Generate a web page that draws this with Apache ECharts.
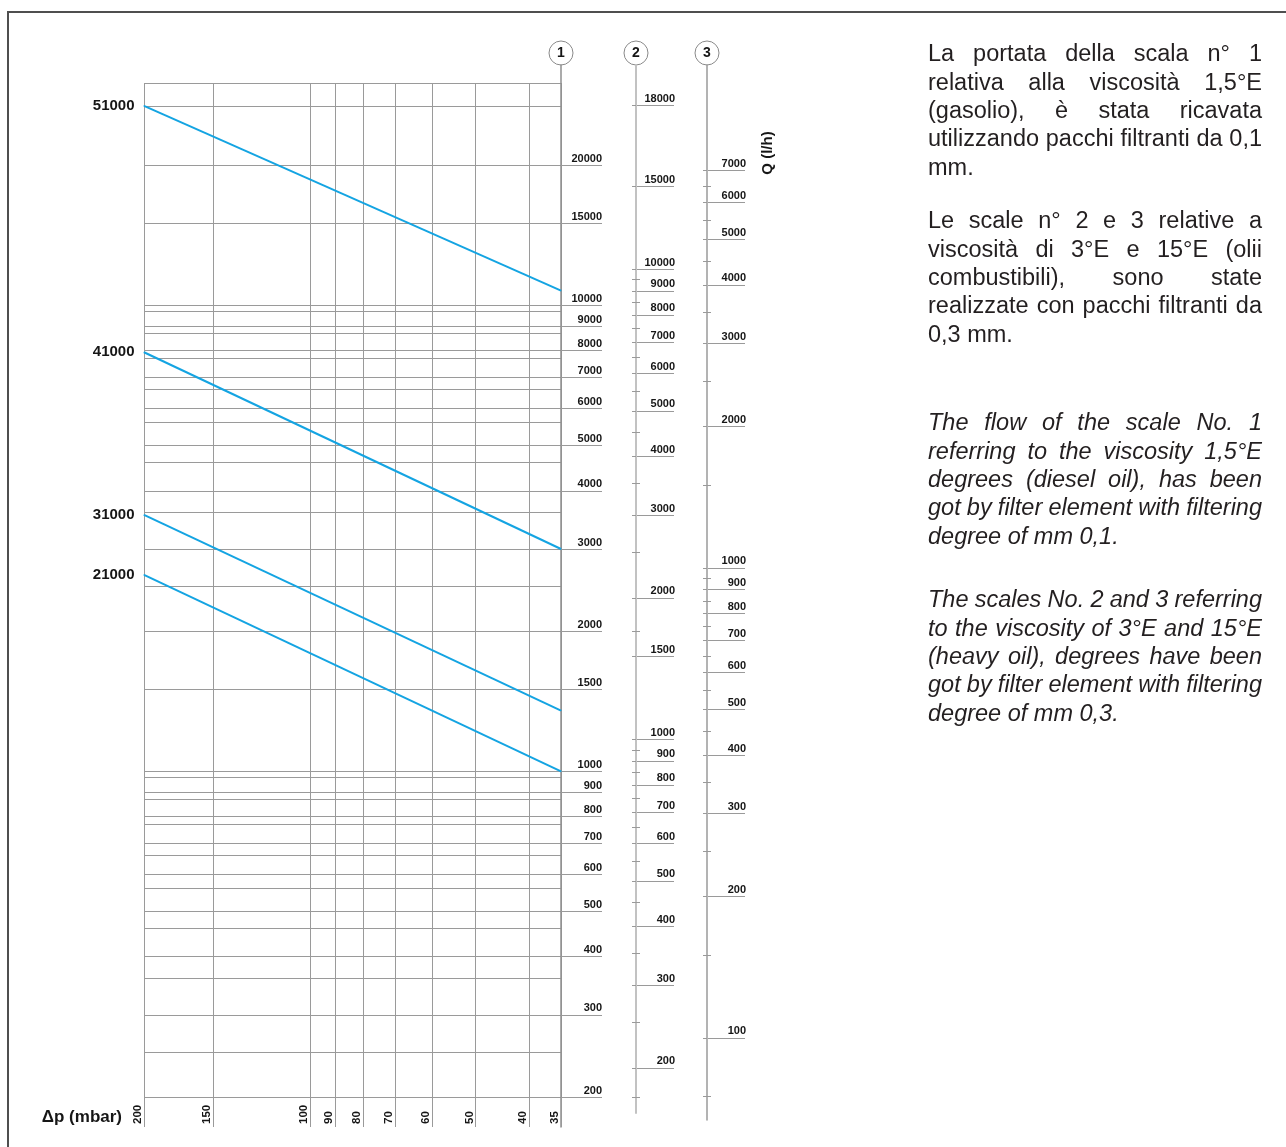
<!DOCTYPE html>
<html><head><meta charset="utf-8">
<script src="https://cdn.jsdelivr.net/npm/echarts@6/dist/echarts.min.js"></script>
<style>html,body{margin:0;padding:0;background:#fff}#c{width:1286px;height:1147px}</style>
</head><body><div id="c"></div>
<script>
// ---------- DATA ----------
// Pressure drop ticks (mbar), bottom axis
const dpTicks = [200, 150, 100, 90, 80, 70, 60, 50, 40, 35];
// Scale 1 (flow Q, l/h) labelled values
const scale1Labels = [20000, 15000, 10000, 9000, 8000, 7000, 6000, 5000, 4000, 3000, 2000, 1500, 1000, 900, 800, 700, 600, 500, 400, 300, 200];
// Scale 1 horizontal grid lines
const scale1Grid = [30000, 26800, 20000, 15000, 10000, 9700, 9000, 8700, 8000, 7700, 7000, 6600, 6000, 5600, 5000, 4600, 4000, 3600, 3000, 2500, 2000, 1500, 1000, 970, 900, 870, 800, 770, 700, 660, 600, 560, 500, 460, 400, 360, 300, 250, 200];
// Scale 2 ticks (labelled position / printed text) and minor ticks
const scale2Major = [22300, 15000, 10000, 9000, 8000, 7000, 6000, 5000, 4000, 3000, 2000, 1500, 1000, 900, 800, 700, 600, 500, 400, 300, 200];
const scale2Text = ['18000', '15000', '10000', '9000', '8000', '7000', '6000', '5000', '4000', '3000', '2000', '1500', '1000', '900', '800', '700', '600', '500', '400', '300', '200'];
const scale2Minor = [9500, 8500, 7500, 6500, 5500, 4500, 3500, 2500, 1700, 950, 850, 750, 650, 550, 450, 350, 250, 173];
// Scale 3 ticks
const scale3Major = [7000, 6000, 5000, 4000, 3000, 2000, 1000, 900, 800, 700, 600, 500, 400, 300, 200, 100];
const scale3Minor = [6500, 5500, 4500, 3500, 2500, 1500, 950, 850, 750, 650, 550, 450, 350, 250, 150, 75];
// Filter lines: name, Q at 200 mbar, Q at 35 mbar (scale 1)
const lineNames = ['51000', '41000', '31000', '21000'];
const lineQat200 = [26800, 7930, 3550, 2640];
const lineQat35 = [10750, 3000, 1350, 1000];
// Axis ranges
const dpRange = [35, 200];
const scale1Range = [200, 30000];
const scale2Range = [160.3, 27200];
const scale3Range = [66.9, 11750];
// Notes
const notes = [
  {italic: false, lines: ['La portata della scala n° 1', 'relativa alla viscosità 1,5°E', '(gasolio), è stata ricavata', 'utilizzando pacchi filtranti da 0,1', 'mm.']},
  {italic: false, lines: ['Le scale n° 2 e 3 relative a', 'viscosità di 3°E e 15°E (olii', 'combustibili), sono state', 'realizzate con pacchi filtranti da', '0,3 mm.']},
  {italic: true, lines: ['The flow of the scale No. 1', 'referring to the viscosity 1,5°E', 'degrees (diesel oil), has been', 'got by filter element with filtering', 'degree of mm 0,1.']},
  {italic: true, lines: ['The scales No. 2 and 3 referring', 'to the viscosity of 3°E and 15°E', '(heavy oil), degrees have been', 'got by filter element with filtering', 'degree of mm 0,3.']}
];
const noteBaselines = [63, 230, 432, 609];

// ---------- STYLE ----------
const FF = '"Liberation Sans", Arial, Helvetica, sans-serif';
const GRID_C = '#9a9a9a';
const TXT = '#161616';
const BLUE = '#14a4e2';
const plain = v => String(Math.round(v));
const LBL = {fontFamily: FF, fontWeight: 'bold', fontSize: 11, color: TXT, formatter: plain};

function hiddenX(gi) { return {gridIndex: gi, type: 'value', show: false, min: 0, max: 1}; }

// justified note text
const mctx = document.createElement('canvas').getContext('2d');
const graphics = [];
graphics.push({type: 'rect', shape: {x: 8, y: 12, width: 1300, height: 1160}, style: {fill: 'none', stroke: '#4f4f4f', lineWidth: 2}, silent: true});
const NOTE_X = 928, NOTE_W = 334, PITCH = 28.3, FS = 23.5;
notes.forEach((p, pi) => {
  const font = (p.italic ? 'italic ' : '') + FS + 'px ' + FF;
  mctx.font = font;
  p.lines.forEach((ln, i) => {
    const y = noteBaselines[pi] + i * PITCH - 0.3465 * FS;
    const words = ln.split(' ');
    if (i === p.lines.length - 1 || words.length < 2) {
      graphics.push({type: 'text', x: NOTE_X, y: y, style: {text: ln, font: font, fill: '#231f20', align: 'left', verticalAlign: 'middle'}});
      return;
    }
    const ws = words.map(w => mctx.measureText(w).width);
    const tot = ws.reduce((a, b) => a + b, 0);
    const gap = (NOTE_W - tot) / (words.length - 1);
    let x = NOTE_X;
    words.forEach((w, j) => {
      graphics.push({type: 'text', x: x, y: y, style: {text: w, font: font, fill: '#231f20', align: 'left', verticalAlign: 'middle'}});
      x += ws[j] + gap;
    });
  });
});
// scale circles
[['1', 561], ['2', 636], ['3', 707]].forEach(c => {
  graphics.push({type: 'circle', shape: {cx: c[1], cy: 53, r: 12}, style: {fill: '#fff', stroke: '#8a8a8a', lineWidth: 1}});
  graphics.push({type: 'text', x: c[1], y: 53.5, style: {text: c[0], font: 'bold 14px ' + FF, fill: TXT, align: 'center', verticalAlign: 'middle'}});
});
graphics.push({type: 'text', x: 768, y: 153, rotation: Math.PI / 2, style: {text: 'Q (l/h)', font: 'bold 15px ' + FF, fill: TXT, align: 'center', verticalAlign: 'middle'}});
graphics.push({type: 'text', x: 122, y: 1117, style: {text: 'Δp (mbar)', font: 'bold 17px ' + FF, fill: TXT, align: 'right', verticalAlign: 'middle'}});

const series = lineNames.map((n, i) => ({
  type: 'line', xAxisIndex: 0, yAxisIndex: 0, name: n,
  symbol: 'circle', symbolSize: 1, showSymbol: true,
  itemStyle: {color: BLUE},
  lineStyle: {color: BLUE, width: 2},
  data: [
    {value: [200, lineQat200[i]], label: {show: true, position: 'left', distance: 9, formatter: n, fontFamily: FF, fontWeight: 'bold', fontSize: 15, color: TXT}},
    {value: [35, lineQat35[i]]}
  ],
  z: 5
}));

function scaleLabelFormatter(ticks, texts) {
  return function (v) {
    for (let i = 0; i < ticks.length; i++) if (Math.abs(v - ticks[i]) / ticks[i] < 1e-4) return texts[i];
    return '';
  };
}

const gridBase = {containLabel: false, outerBoundsMode: 'none'};
const option = {
  animation: false,
  backgroundColor: '#fff',
  grid: [
    Object.assign({left: 144, top: 83, width: 417, height: 1014}, gridBase),
    Object.assign({left: 561, top: 65, width: 1, height: 1062}, gridBase),
    Object.assign({left: 636, top: 65, width: 1, height: 1048}, gridBase),
    Object.assign({left: 636, top: 65, width: 1, height: 1048}, gridBase),
    Object.assign({left: 707, top: 65, width: 1, height: 1055}, gridBase),
    Object.assign({left: 707, top: 65, width: 1, height: 1055}, gridBase)
  ],
  xAxis: [
    {gridIndex: 0, type: 'log', inverse: true, min: dpRange[0], max: dpRange[1],
      axisLine: {show: false},
      axisTick: {show: true, customValues: dpTicks, length: 30, lineStyle: {color: GRID_C}},
      axisLabel: Object.assign({}, LBL, {customValues: dpTicks, rotate: 90, align: 'left', verticalAlign: 'bottom', margin: 27, fontSize: 11.5}),
      splitLine: {show: true, lineStyle: {color: GRID_C, width: 1}}},
    hiddenX(1), hiddenX(2), hiddenX(3), hiddenX(4), hiddenX(5)
  ],
  yAxis: [
    {gridIndex: 0, type: 'log', min: scale1Range[0], max: scale1Range[1], position: 'left',
      axisLine: {show: false}, axisTick: {show: false, customValues: scale1Grid}, axisLabel: {show: false},
      splitLine: {show: true, lineStyle: {color: GRID_C, width: 1}}},
    {gridIndex: 0, type: 'log', min: scale1Range[0], max: scale1Range[1], position: 'right',
      axisLine: {show: false},
      axisTick: {show: true, customValues: scale1Labels, length: 41, lineStyle: {color: GRID_C}},
      axisLabel: Object.assign({}, LBL, {customValues: scale1Labels, margin: 41, align: 'right', verticalAlign: 'bottom', padding: [0, 0, 1, 0]}),
      splitLine: {show: false}},
    {gridIndex: 1, type: 'value', min: 0, max: 1, position: 'left',
      axisLine: {show: true, lineStyle: {color: '#8f8f8f', width: 1.5}}, axisTick: {show: false}, axisLabel: {show: false}, splitLine: {show: false}},
    // scale 2
    {gridIndex: 2, type: 'log', min: scale2Range[0], max: scale2Range[1], position: 'left',
      axisLine: {show: true, lineStyle: {color: '#c2c2c2', width: 2}},
      axisTick: {show: true, customValues: scale2Major.concat(scale2Minor), length: 4, lineStyle: {color: GRID_C}},
      axisLabel: {show: false}, splitLine: {show: false}},
    {gridIndex: 2, type: 'log', min: scale2Range[0], max: scale2Range[1], position: 'right',
      axisLine: {show: false},
      axisTick: {show: true, customValues: scale2Major, length: 37, lineStyle: {color: GRID_C}},
      axisLabel: Object.assign({}, LBL, {customValues: scale2Major, margin: 38, align: 'right', verticalAlign: 'bottom', padding: [0, 0, 1, 0], formatter: scaleLabelFormatter(scale2Major, scale2Text)}),
      splitLine: {show: false}},
    {gridIndex: 3, type: 'log', min: scale2Range[0], max: scale2Range[1], position: 'right',
      axisLine: {show: false},
      axisTick: {show: true, customValues: scale2Minor, length: 4, lineStyle: {color: GRID_C}},
      axisLabel: {show: false}, splitLine: {show: false}},
    // scale 3
    {gridIndex: 4, type: 'log', min: scale3Range[0], max: scale3Range[1], position: 'left',
      axisLine: {show: true, lineStyle: {color: '#9a9a9a', width: 1.5}},
      axisTick: {show: true, customValues: scale3Major.concat(scale3Minor), length: 4, lineStyle: {color: GRID_C}},
      axisLabel: {show: false}, splitLine: {show: false}},
    {gridIndex: 4, type: 'log', min: scale3Range[0], max: scale3Range[1], position: 'right',
      axisLine: {show: false},
      axisTick: {show: true, customValues: scale3Major, length: 37, lineStyle: {color: GRID_C}},
      axisLabel: Object.assign({}, LBL, {customValues: scale3Major, margin: 38, align: 'right', verticalAlign: 'bottom', padding: [0, 0, 1, 0]}),
      splitLine: {show: false}},
    {gridIndex: 5, type: 'log', min: scale3Range[0], max: scale3Range[1], position: 'right',
      axisLine: {show: false},
      axisTick: {show: true, customValues: scale3Minor, length: 4, lineStyle: {color: GRID_C}},
      axisLabel: {show: false}, splitLine: {show: false}}
  ],
  series: series,
  graphic: {elements: graphics}
};
const chart = echarts.init(document.getElementById('c'), null, {renderer: 'canvas'});
chart.setOption(option);
</script>
</body></html>
